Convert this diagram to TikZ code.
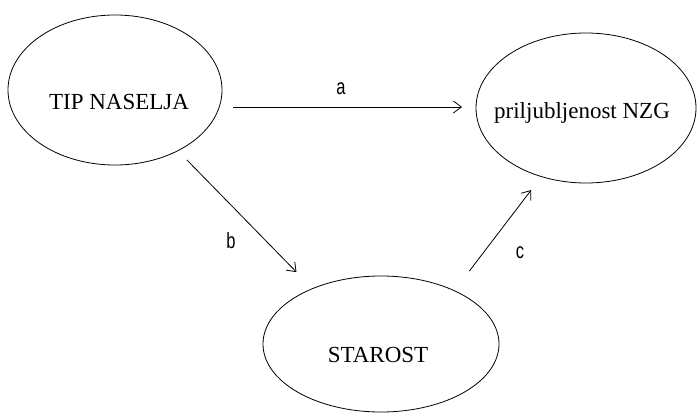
\documentclass[tikz,border=0pt]{standalone}
\usepackage{fontspec}
\setmainfont{Liberation Serif}
\newfontfamily\lblfont[FakeStretch=0.75]{Liberation Sans}
\usetikzlibrary{shapes.geometric,arrows.meta}
\begin{document}
\begin{tikzpicture}[x=1pt,y=-1pt,
  oval/.style={draw,ellipse,line width=0.8pt,inner sep=0pt,outer sep=0pt},
  ovaltext/.style={inner sep=0pt,font=\fontsize{23}{27}\selectfont},
  lbl/.style={inner sep=0pt,font=\lblfont\fontsize{22}{26}\selectfont},
  conn/.style={line width=0.8pt,-{Straight Barb[length=8pt,width=12pt]}}]
\useasboundingbox (0,0) rectangle (698,412);
\node[oval,minimum width=214pt,minimum height=150pt] (tip) at (115,90) {};
\node[oval,minimum width=220pt,minimum height=150pt] (prij) at (586,108) {};
\node[oval,minimum width=236pt,minimum height=136pt] (star) at (381,344) {};
\node[ovaltext] (tiptext) at (119,102) {TIP NASELJA};
\node[ovaltext] (prijtext) at (582,113) {priljubljenost NZG};
\node[ovaltext] (startext) at (378,355) {STAROST};
\draw[conn,shorten <=11pt,shorten >=14pt] ([yshift=-17pt]tip.east) -- ([yshift=1pt]prij.west);
\draw[conn,shorten <=13pt,shorten >=23pt] (tip.-44) -- (star.141.9);
\draw[conn,shorten <=24.6pt,shorten >=16.9pt] (star.36.2) -- (prij.237.4);
\node[lbl] (la) at (341,89) {a};
\node[lbl] (lb) at (231,241) {b};
\node[lbl] (lc) at (520,253) {c};
\end{tikzpicture}
\end{document}
